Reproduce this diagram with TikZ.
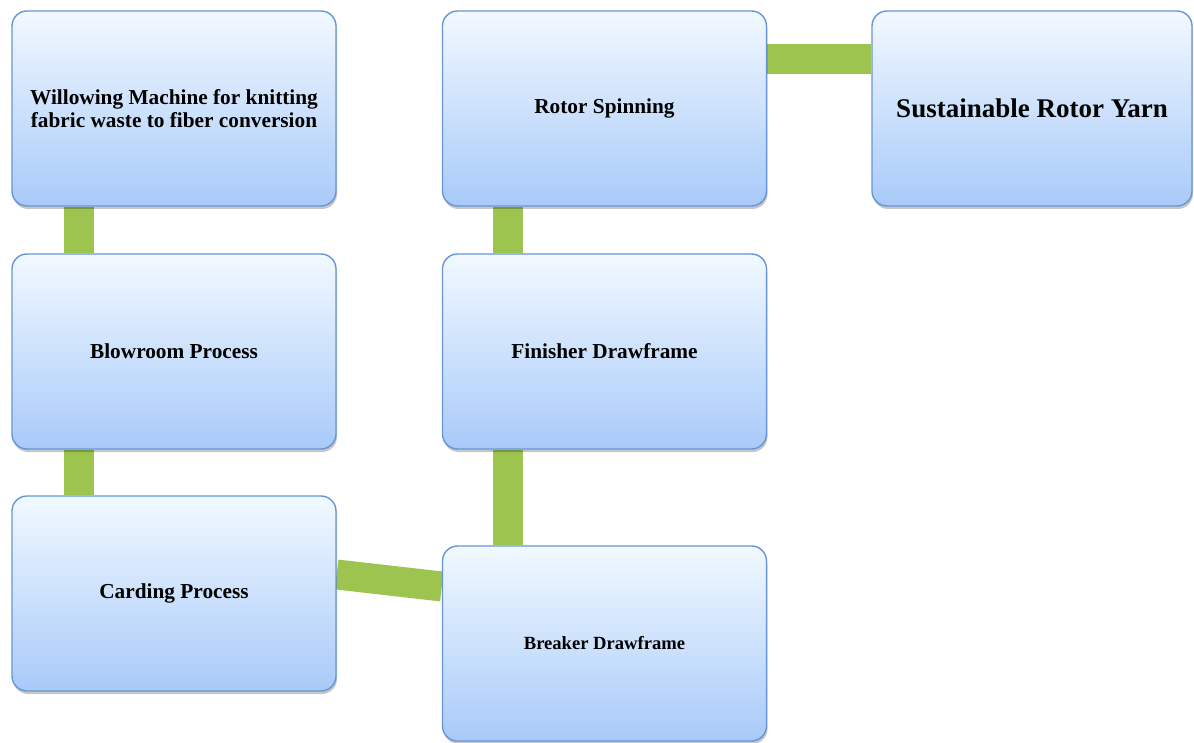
\documentclass[tikz,border=0pt]{standalone}
\usepackage{fontspec}
\setmainfont{Liberation Serif}
\usetikzlibrary{shadows,backgrounds}
\definecolor{boxtop}{RGB}{242,249,255}
\definecolor{boxbot}{RGB}{168,202,249}
\definecolor{boxline}{RGB}{102,150,214}
\definecolor{conngreen}{RGB}{158,196,80}
\tikzset{
  procbox/.style={rectangle, rounded corners=15pt, draw=boxline, line width=1.4pt,
    top color=boxtop, bottom color=boxbot, minimum width=324pt, minimum height=195pt,
    align=center, font=\bfseries, inner sep=0pt,
    drop shadow={shadow xshift=1pt, shadow yshift=-3pt, opacity=0.22, fill=black}},
  conn/.style={line width=30pt, draw=conngreen}
}
\begin{document}
\begin{tikzpicture}[x=1pt,y=-1pt]
\useasboundingbox (0,0) rectangle (1194,743);
\node[procbox] (b1) at (174,108.5) {\fontsize{21.3}{24}\selectfont Willowing Machine for knitting\\[3pt]\fontsize{21.3}{24}\selectfont fabric waste to fiber conversion};
\node[procbox] (b2) at (174,351.5) {\fontsize{21.3}{24}\selectfont Blowroom Process};
\node[procbox] (b3) at (174,593.5) {\fontsize{21.3}{24}\selectfont Carding Process};
\node[procbox] (b4) at (604.5,643.5) {\fontsize{18.6}{22}\selectfont Breaker Drawframe};
\node[procbox] (b5) at (604.5,351.5) {\fontsize{21.3}{24}\selectfont Finisher Drawframe};
\node[procbox] (b6) at (604.5,108.5) {\fontsize{21.3}{24}\selectfont Rotor Spinning};
\node[procbox, minimum width=320pt] (b7) at (1032,108.5) {\fontsize{27}{30}\selectfont Sustainable Rotor Yarn};
\begin{scope}[on background layer]
\draw[conn] ([xshift=68pt]b1.south west) -- ([xshift=68pt]b2.north west);
\draw[conn] ([xshift=68pt]b2.south west) -- ([xshift=68pt]b3.north west);
\draw[conn] ([yshift=19pt]b3.east) -- ([yshift=57pt]b4.west);
\draw[conn] ([xshift=66pt]b4.north west) -- ([xshift=66pt]b5.south west);
\draw[conn] ([xshift=66pt]b5.north west) -- ([xshift=66pt]b6.south west);
\draw[conn] ([yshift=49pt]b6.east) -- ([yshift=49pt]b7.west);
\end{scope}
\end{tikzpicture}
\end{document}
